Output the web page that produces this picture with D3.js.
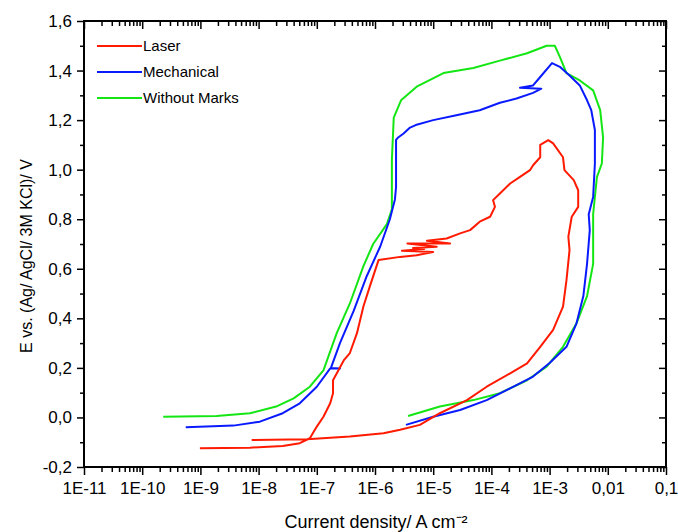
<!DOCTYPE html>
<html>
<head>
<meta charset="utf-8">
<script src="https://cdn.jsdelivr.net/npm/d3@7"></script>
<style>
  body { margin: 0; background: #fff; }
  svg text { font-family: Arial, "Liberation Sans", sans-serif; fill: #000; }
</style>
</head>
<body>
<div id="chart"></div>
<script>
// current density (A cm-2) and potential (V)
var laserI = [9.8e-10, 7.1e-9, 2.6e-8, 5.1e-8, 7.6e-8, 1.0e-7, 1.3e-7, 1.7e-7, 1.9e-7, 1.9e-7, 2.9e-7, 3.7e-7, 4.9e-7, 6.3e-7, 8.1e-7, 1.15e-6, 2.7e-6, 5.2e-6,
              1.0e-5, 2.9e-6, 7.0e-6, 4.5e-6, 1.15e-5, 3.6e-6, 1.95e-5, 7.8e-6, 1.7e-5, 2.9e-5, 4.3e-5, 6.3e-5, 9.5e-5, 1.15e-4, 1.07e-4, 1.4e-4, 2.1e-4, 3.1e-4, 4.6e-4, 5.2e-4, 6.9e-4, 6.9e-4, 9.5e-4, 1.15e-3,
              1.7e-3, 1.8e-3, 2.6e-3, 3.1e-3, 3.1e-3, 2.4e-3, 2.1e-3, 2.2e-3, 1.95e-3, 1.7e-3, 1.15e-3, 6.9e-4, 4.1e-4, 2.1e-4, 8.3e-5, 3.8e-5, 1.3e-5, 5.9e-6, 2.7e-6, 1.4e-6, 3.7e-7, 6.8e-8, 7.6e-9];
var laserE = [-0.124, -0.122, -0.115, -0.104, -0.084, -0.037, 0.003, 0.057, 0.098, 0.15, 0.23, 0.26, 0.34, 0.447, 0.527, 0.635, 0.648, 0.655,
              0.668, 0.673, 0.680, 0.684, 0.689, 0.702, 0.702, 0.713, 0.722, 0.743, 0.756, 0.79, 0.81, 0.85, 0.877, 0.904, 0.944, 0.971, 0.998, 1.018, 1.05, 1.10, 1.119, 1.106,
              1.05, 0.998, 0.958, 0.917, 0.85, 0.81, 0.73, 0.675, 0.554, 0.447, 0.353, 0.285, 0.218, 0.178, 0.124, 0.07, 0.017, -0.030, -0.05, -0.064, -0.077, -0.088, -0.091];

var mechI = [5.6e-10, 3.7e-9, 1.05e-8, 2.6e-8, 5.1e-8, 1.0e-7, 1.7e-7, 2.5e-7, 1.75e-7, 2.5e-7, 4.3e-7, 7.2e-7, 1.23e-6, 1.8e-6, 2.2e-6, 2.3e-6, 2.3e-6, 2.5e-6, 3.1e-6, 4.0e-6, 5.0e-6,
             1.0e-5, 2.5e-5, 6.3e-5, 1.4e-4, 2.7e-4, 5.2e-4, 7.2e-4, 3.1e-4, 5.2e-4, 6.9e-4, 1.1e-3,
             1.5e-3, 2.2e-3, 3.3e-3, 4.4e-3, 5.2e-3, 6.0e-3, 6.0e-3, 5.6e-3, 4.7e-3, 4.9e-3, 4.4e-3, 3.8e-3, 2.9e-3, 1.95e-3, 1.0e-3, 5.2e-4, 2.4e-4, 8.3e-5, 2.9e-5, 1.0e-5, 3.4e-6];
var mechE = [-0.040, -0.033, -0.017, 0.017, 0.057, 0.124, 0.198, 0.198, 0.200, 0.30, 0.43, 0.57, 0.69, 0.80, 0.88, 0.93, 1.12, 1.13, 1.146, 1.17, 1.18,
             1.20, 1.22, 1.24, 1.27, 1.287, 1.31, 1.327, 1.331, 1.34, 1.374, 1.43,
             1.415, 1.38, 1.34, 1.28, 1.24, 1.16, 1.025, 0.89, 0.82, 0.756, 0.62, 0.49, 0.38, 0.285, 0.22, 0.165, 0.124, 0.07, 0.03, 0.003, -0.03];

var plainI = [2.3e-10, 1.9e-9, 7.1e-9, 2.0e-8, 4.0e-8, 7.6e-8, 1.3e-7, 2.2e-7, 3.7e-7, 6.3e-7, 9.3e-7, 1.6e-6, 1.95e-6, 1.95e-6, 2.1e-6, 2.8e-6, 5.2e-6,
              1.5e-5, 4.9e-5, 1.4e-4, 4.1e-4, 8.9e-4, 1.23e-3,
              1.5e-3, 1.95e-3, 3.3e-3, 5.6e-3, 7.4e-3, 8.3e-3, 7.9e-3, 6.5e-3, 5.6e-3, 5.6e-3, 4.4e-3, 2.9e-3, 1.7e-3, 8.9e-4, 4.1e-4, 1.4e-4, 4.9e-5, 1.3e-5, 3.7e-6];
var plainE = [0.003, 0.006, 0.017, 0.044, 0.077, 0.124, 0.19, 0.34, 0.46, 0.61, 0.70, 0.78, 0.84, 1.04, 1.21, 1.28, 1.335,
              1.39, 1.41, 1.44, 1.47, 1.50, 1.50,
              1.455, 1.39, 1.36, 1.32, 1.24, 1.13, 1.025, 0.97, 0.82, 0.62, 0.49, 0.38, 0.285, 0.205, 0.15, 0.098, 0.07, 0.044, 0.006];

var seriesNames = ["Laser", "Mechanical", "Without Marks"];
var seriesColors = ["#ff1a00", "#0a1aff", "#14e614"];

var xTickValues = [1e-11, 1e-10, 1e-9, 1e-8, 1e-7, 1e-6, 1e-5, 1e-4, 1e-3, 1e-2, 1e-1];
var xTickLabels = ["1E-11", "1E-10", "1E-9", "1E-8", "1E-7", "1E-6", "1E-5", "1E-4", "1E-3", "0,01", "0,1"];
var yTickValues = [-0.2, 0, 0.2, 0.4, 0.6, 0.8, 1.0, 1.2, 1.4, 1.6];
var yTickLabels = ["-0,2", "0,0", "0,2", "0,4", "0,6", "0,8", "1,0", "1,2", "1,4", "1,6"];

var width = 678, height = 532;
var plotLeft = 84, plotRight = 666, plotTop = 21, plotBottom = 467;

var svg = d3.select('#chart').append('svg')
    .attr('width', width)
    .attr('height', height);

var x = d3.scaleLog().domain([1e-11, 0.1]).range([plotLeft, plotRight]);
var y = d3.scaleLinear().domain([-0.2, 1.6]).range([plotBottom, plotTop]);

// minor ticks: 2..9 in each decade, 0.1 V steps
var xMinor = [];
xTickValues.slice(0, -1).forEach(function(d) {
    for (var k = 2; k < 10; k++) xMinor.push(d * k);
});
var yMinor = d3.range(-0.1, 1.6, 0.2);

function styleAxis(g) {
    g.select('.domain').remove();
    g.selectAll('line').attr('stroke', '#000').attr('stroke-width', 1.5);
    g.selectAll('text').style('font-size', '17px');
}

// bottom axis
svg.append('g').attr('transform', 'translate(0,' + plotBottom + ')')
    .call(d3.axisBottom(x).tickValues(xTickValues).tickSize(8).tickPadding(7)
        .tickFormat(function(d, i) { return xTickLabels[i]; }))
    .call(styleAxis);
svg.append('g').attr('transform', 'translate(0,' + plotBottom + ')')
    .call(d3.axisBottom(x).tickValues(xMinor).tickSize(5).tickFormat(''))
    .call(styleAxis);

// top axis, ticks inside
svg.append('g').attr('transform', 'translate(0,' + plotTop + ')')
    .call(d3.axisBottom(x).tickValues(xTickValues).tickSize(8).tickFormat(''))
    .call(styleAxis);
svg.append('g').attr('transform', 'translate(0,' + plotTop + ')')
    .call(d3.axisBottom(x).tickValues(xMinor).tickSize(5).tickFormat(''))
    .call(styleAxis);

// left axis
svg.append('g').attr('transform', 'translate(' + plotLeft + ',0)')
    .call(d3.axisLeft(y).tickValues(yTickValues).tickSize(7).tickPadding(5)
        .tickFormat(function(d, i) { return yTickLabels[i]; }))
    .call(styleAxis);
svg.append('g').attr('transform', 'translate(' + plotLeft + ',0)')
    .call(d3.axisLeft(y).tickValues(yMinor).tickSize(4).tickFormat(''))
    .call(styleAxis);

// right axis, ticks inside
svg.append('g').attr('transform', 'translate(' + plotRight + ',0)')
    .call(d3.axisLeft(y).tickValues(yTickValues).tickSize(7).tickFormat(''))
    .call(styleAxis);
svg.append('g').attr('transform', 'translate(' + plotRight + ',0)')
    .call(d3.axisLeft(y).tickValues(yMinor).tickSize(4).tickFormat(''))
    .call(styleAxis);

// frame
svg.append('rect')
    .attr('x', plotLeft).attr('y', plotTop)
    .attr('width', plotRight - plotLeft).attr('height', plotBottom - plotTop)
    .attr('fill', 'none').attr('stroke', '#000').attr('stroke-width', 2);

var line = d3.line()
    .x(function(d) { return x(d[0]); })
    .y(function(d) { return y(d[1]); });

var allSeries = [d3.zip(laserI, laserE), d3.zip(mechI, mechE), d3.zip(plainI, plainE)];

// draw green first so red sits on top
[2, 1, 0].forEach(function(i) {
    svg.append('path')
        .datum(allSeries[i])
        .attr('d', line)
        .attr('fill', 'none')
        .attr('stroke', seriesColors[i])
        .attr('stroke-width', 2)
        .attr('stroke-linejoin', 'round');
});

// legend
var legend = svg.append('g');
seriesNames.forEach(function(name, i) {
    var ly = 46 + i * 26;
    legend.append('line')
        .attr('x1', 97).attr('x2', 142)
        .attr('y1', ly).attr('y2', ly)
        .attr('stroke', seriesColors[i]).attr('stroke-width', 2);
    legend.append('text')
        .attr('x', 143).attr('y', ly + 5)
        .style('font-size', '15px')
        .text(name);
});

// axis titles
svg.append('text')
    .attr('x', 376).attr('y', 528)
    .attr('text-anchor', 'middle')
    .style('font-size', '18px')
    .text('Current density/ A cm⁻²');

svg.append('text')
    .attr('transform', 'translate(32,256) rotate(-90)')
    .attr('text-anchor', 'middle')
    .style('font-size', '16px')
    .text('E vs. (Ag/ AgCl/ 3M KCl)/ V');
</script>
</body>
</html>
